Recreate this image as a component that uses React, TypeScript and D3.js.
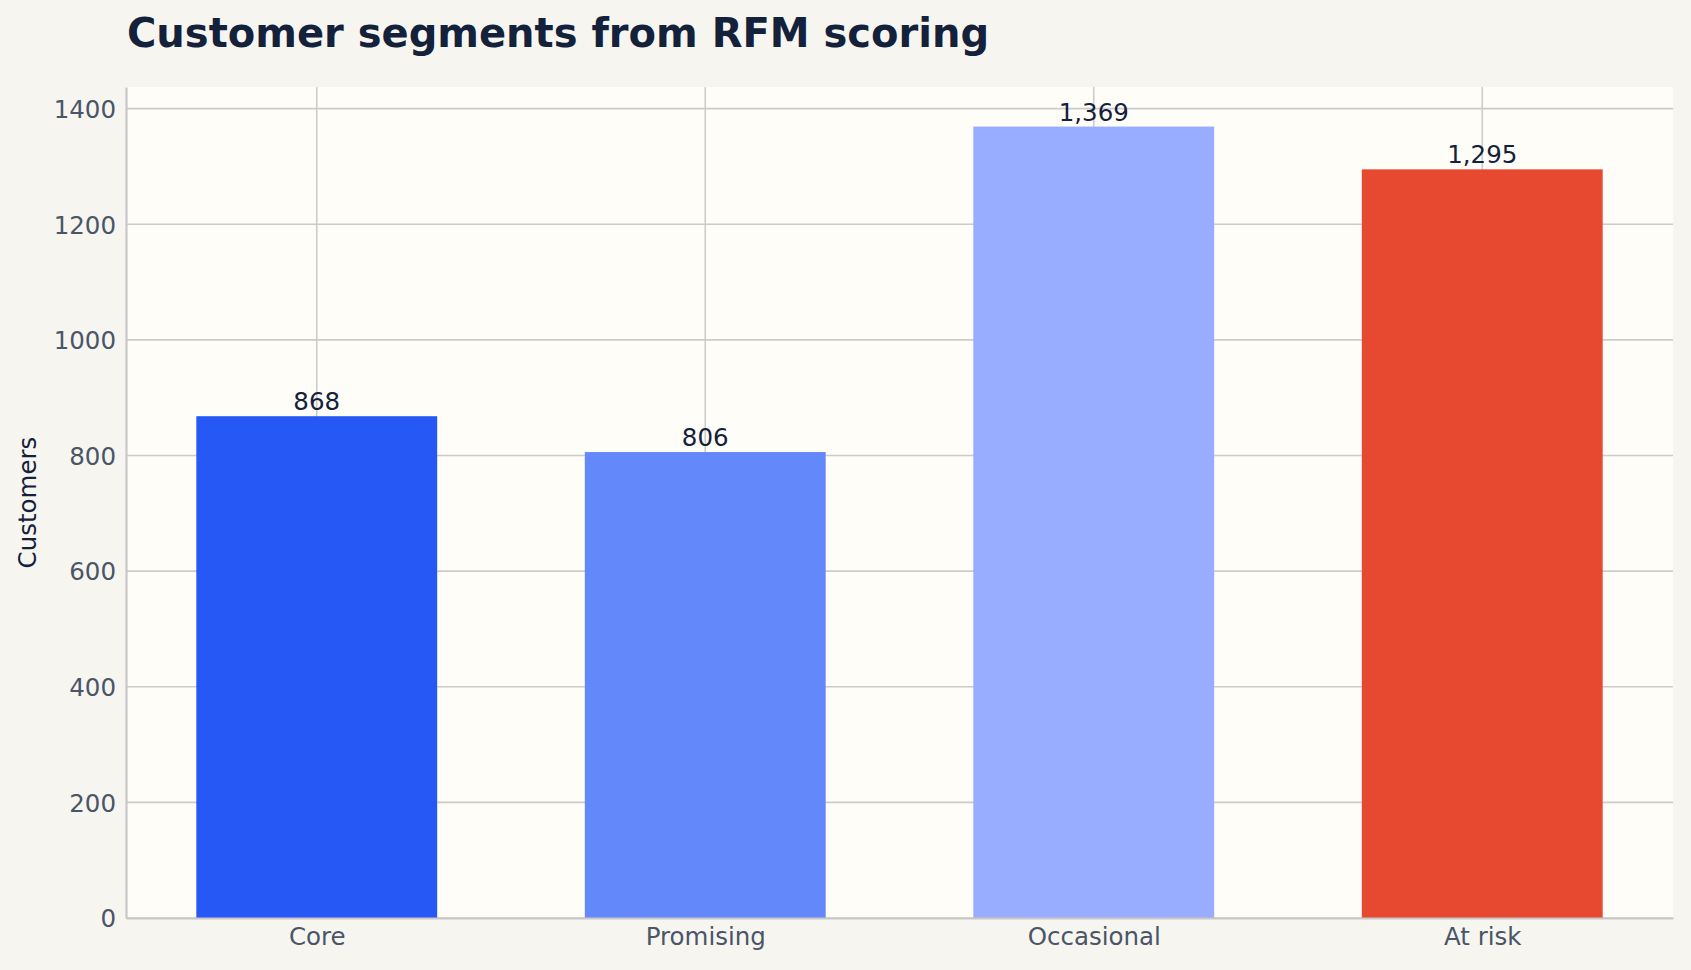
import React, { useEffect, useRef } from 'react';
import * as d3 from 'd3';

const segments = ['Core', 'Promising', 'Occasional', 'At risk'];
const customers = [868, 806, 1369, 1295];
const barColors = ['#2558f5', '#6388fa', '#98adff', '#e6492f'];
const yTicks = [0, 200, 400, 600, 800, 1000, 1200, 1400];

const W = 1691;
const H = 970;

const App: React.FC = () => {
  const svgRef = useRef<SVGSVGElement | null>(null);

  useEffect(() => {
    document.body.style.margin = '0';
    if (!svgRef.current) return;
    const svg = d3.select(svgRef.current);
    svg.selectAll('*').remove();

    const margin = { top: 87, right: 18, bottom: 52, left: 126 };
    const plotW = W - margin.left - margin.right;
    const plotH = H - margin.top - margin.bottom;
    const font = 'DejaVu Sans, sans-serif';
    const fs = 24.5;

    const barW = 0.62;
    const pad = (segments.length - 1 + barW) * 0.05;
    const x = d3.scaleLinear()
      .domain([-barW / 2 - pad, segments.length - 1 + barW / 2 + pad])
      .range([0, plotW]);
    const y = d3.scaleLinear()
      .domain([0, (d3.max(customers) as number) * 1.05])
      .range([plotH, 0]);

    svg.append('rect').attr('width', W).attr('height', H).attr('fill', '#f7f5f0');

    svg.append('text')
      .attr('x', 127)
      .attr('y', 47)
      .attr('font-family', font)
      .attr('font-weight', 'bold')
      .attr('font-size', 40)
      .attr('fill', '#13213b')
      .text('Customer segments from RFM scoring');

    const g = svg.append('g').attr('transform', `translate(${margin.left},${margin.top})`);

    g.append('rect').attr('width', plotW).attr('height', plotH).attr('fill', '#fffdf8');

    // grid
    g.append('g')
      .selectAll('line.h')
      .data(yTicks)
      .join('line')
      .attr('x1', 0)
      .attr('x2', plotW)
      .attr('y1', d => y(d))
      .attr('y2', d => y(d))
      .attr('stroke', '#cccccc')
      .attr('stroke-width', 1.6);
    g.append('g')
      .selectAll('line.v')
      .data(segments)
      .join('line')
      .attr('x1', (_, i) => x(i))
      .attr('x2', (_, i) => x(i))
      .attr('y1', 0)
      .attr('y2', plotH)
      .attr('stroke', '#cccccc')
      .attr('stroke-width', 1.6);

    // bars
    g.append('g')
      .selectAll('rect')
      .data(customers)
      .join('rect')
      .attr('x', (_, i) => x(i - barW / 2))
      .attr('width', x(barW) - x(0))
      .attr('y', d => y(d))
      .attr('height', d => plotH - y(d))
      .attr('fill', (_, i) => barColors[i]);

    // value labels
    g.append('g')
      .selectAll('text')
      .data(customers)
      .join('text')
      .attr('x', (_, i) => x(i))
      .attr('y', d => y(d) - 6)
      .attr('text-anchor', 'middle')
      .attr('font-family', font)
      .attr('font-size', fs)
      .attr('fill', '#13213b')
      .text(d => d3.format(',')(d));

    // axes
    const yAxis = g.append('g').call(
      d3.axisLeft(y).tickValues(yTicks).tickFormat(d3.format('d')).tickSize(0).tickPadding(10)
    );
    const xAxis = g.append('g')
      .attr('transform', `translate(0,${plotH})`)
      .call(d3.axisBottom(x).tickValues(d3.range(segments.length)).tickFormat((_, i) => segments[i]).tickSize(0).tickPadding(10));
    [yAxis, xAxis].forEach(ax => {
      ax.select('.domain').attr('stroke', '#c8c8c8').attr('stroke-width', 2.2);
      ax.selectAll('text')
        .attr('font-family', font)
        .attr('font-size', fs)
        .attr('fill', '#4a5568');
    });
    yAxis.selectAll('text').attr('dy', '0.36em');
    xAxis.selectAll('text').attr('dy', '0.7em');

    svg.append('text')
      .attr('transform', `translate(36,${margin.top + plotH / 2}) rotate(-90)`)
      .attr('text-anchor', 'middle')
      .attr('font-family', font)
      .attr('font-size', fs)
      .attr('fill', '#13213b')
      .text('Customers');
  }, []);

  return <svg ref={svgRef} width={W} height={H} style={{ display: 'block' }} />;
};

export default App;
